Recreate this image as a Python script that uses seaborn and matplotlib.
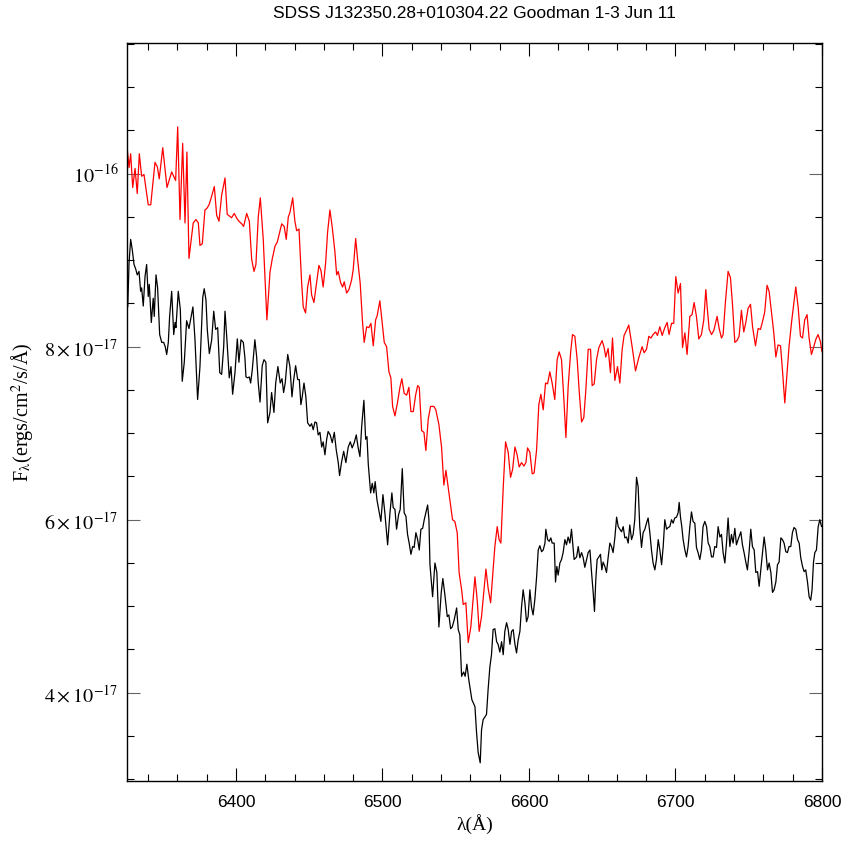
import numpy as np
import pandas as pd
import seaborn as sns
import matplotlib.pyplot as plt
from matplotlib.ticker import FixedLocator, FixedFormatter, MultipleLocator

# red spectrum (wavelength in A, flux in 1e-17 ergs/cm2/s/A)
red_wave = [
    6325.8, 6327.0, 6328.1, 6329.5, 6331.1, 6332.6, 6334.0, 6335.6, 6337.2, 6340.1,
    6341.8, 6344.7, 6346.3, 6347.6, 6350.0, 6352.9, 6356.1, 6358.8, 6360.2, 6361.8,
    6363.6, 6365.2, 6366.5, 6367.9, 6370.8, 6372.7, 6374.3, 6375.4, 6377.0, 6378.8,
    6380.2, 6381.6, 6382.9, 6385.2, 6386.8, 6388.4, 6390.2, 6392.5, 6394.0, 6397.0,
    6398.8, 6400.7, 6402.0, 6403.9, 6405.2, 6407.3, 6409.1, 6410.7, 6412.3, 6413.6,
    6415.2, 6416.6, 6418.6, 6421.1, 6423.2, 6424.7, 6426.6, 6428.2, 6431.2, 6432.9,
    6434.3, 6435.7, 6436.8, 6438.7, 6440.2, 6441.4, 6443.0, 6444.8, 6445.9, 6447.5,
    6448.9, 6450.5, 6451.6, 6453.2, 6455.0, 6456.6, 6458.0, 6459.5, 6461.2, 6462.5,
    6464.1, 6465.7, 6467.5, 6468.7, 6469.8, 6471.4, 6472.8, 6473.9, 6475.5, 6477.1,
    6478.9, 6480.0, 6481.7, 6483.0, 6484.8, 6486.3, 6487.5, 6489.2, 6490.7, 6492.1,
    6493.7, 6495.3, 6496.4, 6498.2, 6499.8, 6501.2, 6502.8, 6504.4, 6505.7, 6506.9,
    6508.5, 6510.3, 6511.9, 6513.2, 6514.8, 6516.5, 6518.0, 6519.4, 6521.0, 6522.6,
    6524.0, 6525.1, 6526.7, 6528.3, 6529.6, 6531.2, 6532.8, 6535.1, 6536.4, 6538.5,
    6540.3, 6541.9, 6543.3, 6544.8, 6546.5, 6547.8, 6549.4, 6551.0, 6552.3, 6554.0,
    6555.1, 6556.9, 6558.5, 6560.3, 6563.1, 6564.6, 6566.0, 6567.6, 6569.2, 6570.6,
    6572.1, 6573.8, 6575.1, 6576.7, 6578.3, 6579.6, 6580.8, 6582.4, 6584.0, 6585.8,
    6587.4, 6588.8, 6590.4, 6591.9, 6593.3, 6594.9, 6596.5, 6597.9, 6599.0, 6600.6,
    6602.2, 6603.5, 6605.2, 6606.7, 6608.1, 6609.7, 6611.3, 6612.7, 6614.2, 6615.8,
    6617.6, 6619.2, 6620.6, 6622.2, 6623.8, 6625.2, 6626.7, 6628.4, 6629.7, 6631.3,
    6632.9, 6634.2, 6635.9, 6637.4, 6638.8, 6640.4, 6642.0, 6643.1, 6644.5, 6646.1,
    6647.7, 6649.9, 6651.3, 6652.4, 6654.0, 6655.6, 6657.0, 6658.6, 6660.4, 6662.0,
    6663.6, 6664.9, 6666.6, 6668.1, 6670.4, 6672.7, 6674.9, 6677.2, 6678.6, 6680.2,
    6681.8, 6683.2, 6684.7, 6686.4, 6687.7, 6689.3, 6690.9, 6692.7, 6694.3, 6695.6,
    6697.3, 6698.8, 6700.2, 6701.8, 6703.4, 6704.8, 6706.4, 6707.9, 6709.8, 6711.3,
    6712.7, 6714.3, 6715.9, 6717.7, 6719.3, 6720.7, 6721.6, 6723.0, 6724.6, 6726.2,
    6728.4, 6729.8, 6731.4, 6732.5, 6734.1, 6735.9, 6737.5, 6738.9, 6740.5, 6742.0,
    6743.4, 6745.0, 6746.6, 6748.0, 6749.5, 6751.2, 6752.6, 6754.6, 6756.4, 6758.0,
    6759.4, 6760.9, 6762.5, 6763.9, 6765.5, 6767.1, 6768.5, 6770.0, 6771.7, 6773.0,
    6774.6, 6776.2, 6777.5, 6779.2, 6780.7, 6782.1, 6783.7, 6785.3, 6786.7, 6788.2,
    6789.8, 6791.2, 6792.8, 6794.4, 6795.7, 6797.3, 6798.9, 6800.0,
]
red_flux = [
    10.28, 10.07, 10.23, 9.84, 10.06, 9.77, 10.23, 9.97, 9.99, 9.64,
    9.64, 10.13, 10.08, 9.94, 10.30, 9.84, 10.02, 9.92, 10.54, 9.47,
    10.35, 9.43, 10.25, 9.02, 9.43, 9.47, 9.43, 9.17, 9.19, 9.58,
    9.60, 9.64, 9.71, 9.85, 9.52, 9.45, 9.75, 9.95, 9.53, 9.49,
    9.54, 9.48, 9.45, 9.42, 9.39, 9.54, 9.45, 9.01, 8.87, 8.95,
    9.50, 9.72, 9.24, 8.31, 8.86, 9.01, 9.16, 9.21, 9.42, 9.39,
    9.24, 9.50, 9.55, 9.72, 9.45, 9.34, 9.36, 8.74, 8.46, 8.39,
    8.69, 8.83, 8.60, 8.51, 8.74, 8.94, 8.88, 8.69, 8.97, 9.32,
    9.58, 9.38, 9.10, 8.83, 8.87, 8.74, 8.69, 8.75, 8.62, 8.66,
    8.77, 8.89, 9.25, 9.01, 8.73, 8.30, 8.05, 8.23, 8.22, 8.27,
    8.01, 8.31, 8.36, 8.53, 8.28, 8.05, 8.00, 7.71, 7.64, 7.31,
    7.20, 7.36, 7.53, 7.63, 7.46, 7.44, 7.53, 7.25, 7.25, 7.44,
    7.55, 7.53, 7.03, 7.01, 6.80, 7.16, 7.31, 7.31, 7.27, 7.10,
    6.84, 6.40, 6.57, 6.38, 6.17, 6.00, 5.98, 5.85, 5.39, 5.19,
    5.02, 5.04, 4.58, 4.76, 5.34, 5.08, 4.71, 4.88, 5.17, 5.43,
    5.21, 5.04, 5.33, 5.69, 5.92, 5.77, 5.73, 6.37, 6.90, 6.78,
    6.49, 6.58, 6.84, 6.75, 6.61, 6.66, 6.62, 6.66, 6.83, 6.78,
    6.53, 6.54, 6.81, 7.33, 7.45, 7.27, 7.58, 7.57, 7.71, 7.58,
    7.39, 7.85, 7.94, 7.85, 7.39, 6.95, 7.53, 7.93, 8.14, 8.12,
    7.85, 7.50, 7.13, 7.18, 7.50, 7.97, 7.97, 7.55, 7.57, 7.85,
    7.99, 8.07, 7.99, 7.88, 7.98, 7.70, 8.10, 7.61, 7.77, 7.58,
    7.97, 8.13, 8.19, 8.25, 8.00, 7.72, 7.87, 8.00, 7.93, 7.97,
    8.12, 8.10, 8.14, 8.17, 8.13, 8.23, 8.13, 8.22, 8.28, 8.14,
    8.27, 8.27, 8.81, 8.62, 8.73, 7.99, 8.16, 7.91, 8.35, 8.37,
    8.51, 8.35, 8.09, 8.14, 8.31, 8.66, 8.46, 8.20, 8.14, 8.19,
    8.35, 8.21, 8.10, 8.14, 8.52, 8.87, 8.80, 8.49, 8.05, 8.07,
    8.12, 8.42, 8.17, 8.28, 8.44, 8.49, 8.23, 8.01, 8.21, 8.20,
    8.29, 8.40, 8.71, 8.64, 8.40, 8.16, 7.88, 8.02, 8.01, 7.73,
    7.35, 7.70, 8.00, 8.28, 8.49, 8.69, 8.46, 8.12, 8.10, 8.31,
    8.37, 8.10, 7.91, 8.00, 8.08, 8.14, 8.06, 7.94,
]

# black spectrum
black_wave = [
    6326.1, 6327.0, 6328.1, 6329.2, 6330.4, 6331.5, 6332.6, 6333.8, 6334.9, 6335.6,
    6336.7, 6337.9, 6339.0, 6340.1, 6340.8, 6342.2, 6343.5, 6344.2, 6345.4, 6346.5,
    6347.9, 6349.3, 6350.6, 6351.7, 6352.7, 6353.8, 6354.7, 6356.1, 6357.5, 6358.4,
    6359.0, 6360.6, 6362.0, 6363.3, 6364.7, 6366.3, 6367.9, 6369.1, 6370.6, 6372.0,
    6373.8, 6375.4, 6377.3, 6378.3, 6379.5, 6380.4, 6381.8, 6383.4, 6384.8, 6386.1,
    6387.5, 6388.9, 6390.2, 6391.6, 6392.5, 6393.8, 6395.4, 6396.6, 6397.7, 6399.3,
    6400.9, 6402.0, 6403.4, 6405.0, 6406.1, 6406.8, 6408.0, 6409.1, 6410.0, 6411.1,
    6412.9, 6414.1, 6415.2, 6416.4, 6417.9, 6419.1, 6420.4, 6421.6, 6423.2, 6424.3,
    6425.9, 6427.1, 6428.6, 6430.2, 6431.4, 6432.5, 6433.6, 6435.3, 6436.8, 6438.2,
    6439.4, 6440.7, 6442.1, 6443.2, 6444.3, 6445.2, 6446.4, 6447.7, 6448.9, 6450.5,
    6451.6, 6452.7, 6453.9, 6455.0, 6456.1, 6457.3, 6458.5, 6459.5, 6460.7, 6461.9,
    6462.9, 6464.3, 6465.7, 6467.1, 6468.4, 6469.8, 6470.7, 6472.1, 6473.5, 6475.0,
    6476.6, 6478.0, 6479.3, 6480.7, 6482.1, 6483.4, 6484.6, 6485.8, 6487.3, 6488.5,
    6489.4, 6490.3, 6491.9, 6493.0, 6494.1, 6495.0, 6496.2, 6497.8, 6498.9, 6500.3,
    6501.6, 6503.5, 6505.1, 6506.4, 6507.3, 6508.5, 6509.6, 6511.0, 6512.1, 6513.5,
    6514.8, 6516.0, 6517.1, 6518.2, 6519.4, 6520.6, 6521.6, 6522.8, 6524.0, 6525.1,
    6526.2, 6527.4, 6528.5, 6529.6, 6530.8, 6531.7, 6532.4, 6534.2, 6535.8, 6537.1,
    6538.5, 6540.1, 6541.2, 6542.6, 6544.2, 6545.3, 6546.5, 6547.6, 6548.9, 6550.6,
    6551.7, 6552.8, 6554.0, 6555.4, 6556.4, 6557.6, 6558.9, 6561.0, 6563.1, 6564.2,
    6565.3, 6566.7, 6567.6, 6568.7, 6569.9, 6571.0, 6572.1, 6573.3, 6574.4, 6575.5,
    6576.7, 6577.9, 6578.9, 6580.1, 6581.3, 6582.4, 6583.5, 6584.7, 6585.8, 6587.0,
    6588.1, 6589.2, 6590.4, 6591.5, 6592.6, 6593.8, 6594.9, 6596.0, 6597.2, 6598.3,
    6599.4, 6600.6, 6601.7, 6602.8, 6604.0, 6605.2, 6606.3, 6607.4, 6608.6, 6609.7,
    6610.9, 6611.5, 6612.7, 6613.8, 6614.9, 6615.8, 6617.2, 6618.1, 6619.0, 6619.9,
    6621.1, 6622.2, 6623.3, 6624.5, 6625.6, 6626.7, 6627.9, 6629.0, 6630.2, 6630.8,
    6632.5, 6633.6, 6634.7, 6635.9, 6637.0, 6638.1, 6639.3, 6640.4, 6641.6, 6642.7,
    6643.8, 6644.7, 6645.6, 6646.5, 6647.7, 6648.8, 6649.7, 6650.6, 6651.8, 6652.9,
    6654.0, 6655.2, 6656.3, 6657.4, 6658.6, 6659.8, 6660.9, 6662.0, 6663.2, 6664.3,
    6665.4, 6666.6, 6667.7, 6668.8, 6670.0, 6671.1, 6672.2, 6673.4, 6674.5, 6675.6,
    6676.8, 6677.9, 6679.1, 6680.2, 6681.3, 6682.5, 6683.6, 6684.7, 6685.9, 6687.0,
    6688.2, 6689.3, 6690.5, 6691.6, 6692.7, 6693.9, 6695.0, 6696.1, 6697.3, 6698.4,
    6699.5, 6700.7, 6701.8, 6702.5, 6703.4, 6704.3, 6705.2, 6706.4, 6707.5, 6708.6,
    6709.8, 6710.9, 6712.0, 6713.2, 6714.3, 6715.4, 6716.6, 6717.7, 6718.8, 6720.0,
    6721.2, 6722.3, 6723.4, 6724.6, 6725.7, 6726.8, 6728.0, 6729.1, 6730.3, 6731.4,
    6732.5, 6733.7, 6734.8, 6735.9, 6737.1, 6738.2, 6739.3, 6740.5, 6741.6, 6742.7,
    6744.6, 6745.7, 6746.8, 6748.0, 6749.1, 6750.2, 6751.4, 6752.5, 6753.7, 6754.8,
    6756.0, 6757.1, 6758.2, 6759.4, 6760.5, 6761.6, 6762.8, 6763.9, 6765.1, 6766.2,
    6767.3, 6768.5, 6769.6, 6770.7, 6771.9, 6773.0, 6774.1, 6775.3, 6776.4, 6777.5,
    6778.7, 6779.8, 6780.9, 6782.1, 6783.3, 6784.4, 6785.5, 6786.7, 6787.8, 6788.9,
    6790.1, 6791.2, 6792.3, 6793.2, 6794.2, 6795.1, 6796.2, 6797.4, 6798.5, 6799.7,
]
black_flux = [
    8.46, 8.97, 9.24, 9.12, 8.95, 8.90, 8.83, 8.87, 8.64, 8.68,
    8.47, 8.81, 8.95, 8.58, 8.72, 8.28, 8.56, 8.35, 8.83, 8.68,
    8.14, 8.05, 8.05, 8.00, 7.91, 8.05, 8.35, 8.64, 8.14, 8.28,
    8.22, 8.64, 8.43, 7.60, 7.82, 8.30, 8.21, 8.32, 8.46, 8.08,
    7.39, 7.77, 8.57, 8.67, 8.54, 8.20, 7.92, 8.08, 8.41, 8.20,
    8.22, 7.70, 7.68, 8.00, 8.41, 8.08, 7.64, 7.77, 7.45, 7.70,
    8.09, 7.82, 8.08, 8.05, 7.87, 7.65, 7.64, 7.65, 7.58, 7.73,
    8.08, 7.88, 7.58, 7.36, 7.78, 7.85, 7.82, 7.12, 7.24, 7.47,
    7.24, 7.58, 7.77, 7.58, 7.63, 7.47, 7.58, 7.91, 7.77, 7.42,
    7.62, 7.78, 7.62, 7.62, 7.33, 7.42, 7.58, 7.42, 7.12, 7.08,
    7.11, 7.04, 7.13, 7.12, 6.98, 7.01, 6.84, 6.90, 6.75, 6.93,
    7.02, 6.98, 6.89, 7.01, 6.81, 6.66, 6.51, 6.67, 6.79, 6.66,
    6.84, 6.90, 6.83, 6.89, 6.98, 6.83, 6.73, 7.08, 7.38, 6.93,
    6.96, 6.64, 6.31, 6.42, 6.31, 6.44, 6.23, 6.08, 5.98, 6.29,
    6.08, 5.71, 6.08, 6.31, 6.14, 6.12, 5.89, 6.06, 6.12, 6.59,
    6.08, 6.04, 5.83, 5.73, 5.60, 5.69, 5.68, 5.85, 5.77, 5.65,
    5.89, 5.90, 6.00, 6.08, 6.17, 6.00, 5.48, 5.11, 5.50, 5.39,
    4.76, 5.16, 5.32, 5.13, 4.88, 4.90, 4.74, 4.76, 4.84, 4.98,
    4.73, 4.67, 4.19, 4.24, 4.19, 4.33, 4.15, 3.92, 3.84, 3.54,
    3.31, 3.19, 3.57, 3.69, 3.72, 3.75, 4.04, 4.30, 4.44, 4.73,
    4.74, 4.59, 4.56, 4.47, 4.59, 4.44, 4.71, 4.81, 4.73, 4.56,
    4.71, 4.73, 4.56, 4.46, 4.61, 4.71, 4.99, 5.19, 5.04, 4.82,
    4.88, 5.19, 4.99, 4.90, 5.08, 5.34, 5.65, 5.70, 5.63, 5.65,
    5.73, 5.89, 5.77, 5.75, 5.79, 5.73, 5.73, 5.28, 5.46, 5.36,
    5.50, 5.54, 5.62, 5.77, 5.71, 5.80, 5.73, 5.89, 5.65, 5.54,
    5.57, 5.69, 5.56, 5.62, 5.56, 5.45, 5.54, 5.62, 5.65, 5.39,
    5.16, 4.94, 5.31, 5.54, 5.57, 5.60, 5.42, 5.51, 5.46, 5.39,
    5.56, 5.73, 5.69, 5.62, 5.79, 6.03, 5.92, 5.89, 5.86, 5.92,
    5.79, 5.80, 5.73, 5.94, 5.77, 5.83, 6.00, 6.49, 6.38, 5.92,
    5.68, 5.85, 5.89, 5.96, 6.02, 5.85, 5.65, 5.50, 5.42, 5.54,
    5.77, 5.65, 5.48, 5.69, 6.00, 5.89, 5.91, 5.92, 6.00, 5.96,
    6.02, 6.03, 6.08, 6.20, 6.03, 5.92, 5.77, 5.65, 5.57, 5.69,
    5.92, 6.09, 5.98, 5.96, 5.68, 5.62, 5.54, 5.65, 5.92, 5.98,
    5.92, 5.73, 5.69, 5.57, 5.57, 5.69, 5.68, 5.92, 5.80, 5.83,
    5.62, 5.50, 5.73, 6.02, 5.69, 5.83, 5.73, 5.90, 5.71, 5.77,
    5.86, 5.71, 5.62, 5.51, 5.42, 5.62, 5.89, 5.69, 5.65, 5.39,
    5.40, 5.23, 5.42, 5.62, 5.80, 5.65, 5.42, 5.50, 5.39, 5.16,
    5.19, 5.28, 5.48, 5.51, 5.79, 5.77, 5.73, 5.63, 5.62, 5.69,
    5.69, 5.85, 5.91, 5.89, 5.77, 5.73, 5.56, 5.46, 5.40, 5.42,
    5.28, 5.11, 5.07, 5.19, 5.51, 5.62, 5.65, 5.92, 6.00, 5.92,
]

title = "SDSS J132350.28+010304.22 Goodman 1-3 Jun 11"
xticks = [6400, 6500, 6600, 6700, 6800]
yticks = [4e-17, 6e-17, 8e-17, 1e-16]
ytick_labels = [r"$4\times10^{-17}$", r"$6\times10^{-17}$",
                r"$8\times10^{-17}$", r"$10^{-16}$"]

sns.set_theme(style="ticks")
plt.rcParams["mathtext.fontset"] = "stix"
plt.rcParams["text.color"] = "black"
plt.rcParams["axes.labelcolor"] = "black"

red = pd.DataFrame({"wave": red_wave, "flux": np.array(red_flux) * 1e-17})
black = pd.DataFrame({"wave": black_wave, "flux": np.array(black_flux) * 1e-17})

fig = plt.figure(figsize=(8.47, 8.46), dpi=100)
ax = fig.add_axes([127 / 847, 65 / 846, 695 / 847, 738 / 846])

sns.lineplot(data=red, x="wave", y="flux", color="#ff0000", lw=0.9,
             estimator=None, sort=False, ax=ax)
sns.lineplot(data=black, x="wave", y="flux", color="black", lw=0.9,
             estimator=None, sort=False, ax=ax)

ax.set_xlim(6325.6, 6800)
ax.set_ylim(2.98e-17, 1.151e-16)

ax.xaxis.set_major_locator(FixedLocator(xticks))
ax.xaxis.set_minor_locator(MultipleLocator(20))
ax.yaxis.set_major_locator(FixedLocator(yticks))
ax.yaxis.set_major_formatter(FixedFormatter(ytick_labels))
ax.yaxis.set_minor_locator(MultipleLocator(0.5e-17))

ax.tick_params(which="both", direction="in", top=True, right=True, width=0.8,
               color="black", labelcolor="black")
ax.tick_params(which="major", length=9.5)
ax.tick_params(which="minor", length=5)
ax.tick_params(axis="y", which="major", color="#666666", labelsize=14.5, pad=6)
ax.tick_params(axis="x", which="major", labelsize=12.5, pad=10)
for lab in ax.get_xticklabels():
    lab.set_family("Liberation Sans")

for s in ax.spines.values():
    s.set_linewidth(1.0)
    s.set_color("black")

ax.set_xlabel("λ(Å)", family="Liberation Serif", fontsize=14, labelpad=3)
ax.set_ylabel(r"F$_\mathrm{\lambda}$(ergs/cm$^2$/s/Å)", family="Liberation Serif",
              fontsize=14.5, labelpad=6)
fig.text(474.5 / 847, 1 - 14 / 846, title, ha="center", va="center",
         family="Liberation Sans", fontsize=12.5)

fig.savefig("out.png", dpi=100)
